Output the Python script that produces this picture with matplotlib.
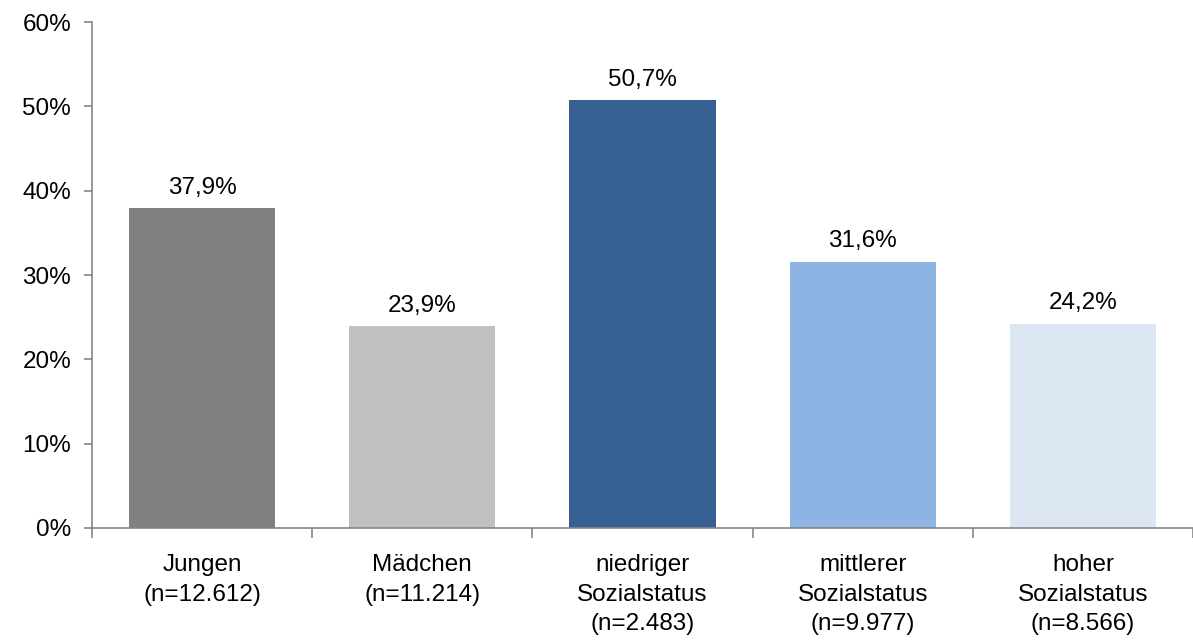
import matplotlib
matplotlib.use("Agg")
import matplotlib.pyplot as plt
from matplotlib.ticker import FixedLocator, FuncFormatter

categories = ["Jungen\n(n=12.612)", "Mädchen\n(n=11.214)", "niedriger\nSozialstatus\n(n=2.483)",
              "mittlerer\nSozialstatus\n(n=9.977)", "hoher\nSozialstatus\n(n=8.566)"]
values = [37.9, 23.9, 50.7, 31.6, 24.2]
colors = ["#808080", "#C0C0C0", "#376092", "#8EB4E3", "#DCE6F2"]
y_ticks = [0, 10, 20, 30, 40, 50, 60]

plt.rcParams["font.family"] = ["Liberation Sans", "DejaVu Sans"]

fig = plt.figure(figsize=(11.93, 6.42), dpi=100)
ax = fig.add_axes([0.0771, 0.1776, 0.9229, 0.7881])

x = list(range(len(categories)))
bars = ax.bar(x, values, width=0.664, color=colors, zorder=2)

for xi, v in zip(x, values):
    ax.annotate(f"{v:.1f}%".replace(".", ","), (xi, v), xytext=(0, 7),
                textcoords="offset points", ha="center", va="bottom", fontsize=17.5)

ax.set_xlim(-0.5, len(categories) - 0.5)
ax.set_ylim(0, 60)
ax.set_yticks(y_ticks)
ax.yaxis.set_major_formatter(FuncFormatter(lambda v, p: f"{v:.0f}%"))

ax.set_xticks(x)
ax.set_xticklabels(categories, fontsize=17.5, linespacing=1.42)
ax.xaxis.set_minor_locator(FixedLocator([i - 0.5 for i in range(len(categories) + 1)]))
ax.tick_params(axis="x", which="major", length=0, pad=19)
ax.tick_params(axis="x", which="minor", length=7, width=1.2, color="#868686", direction="out")
ax.tick_params(axis="y", length=6, width=1.2, color="#868686", labelsize=17.5, pad=9)

for s in ["top", "right"]:
    ax.spines[s].set_visible(False)
for s in ["left", "bottom"]:
    ax.spines[s].set_color("#868686")
    ax.spines[s].set_linewidth(1.2)

fig.savefig("out.png", dpi=100)
